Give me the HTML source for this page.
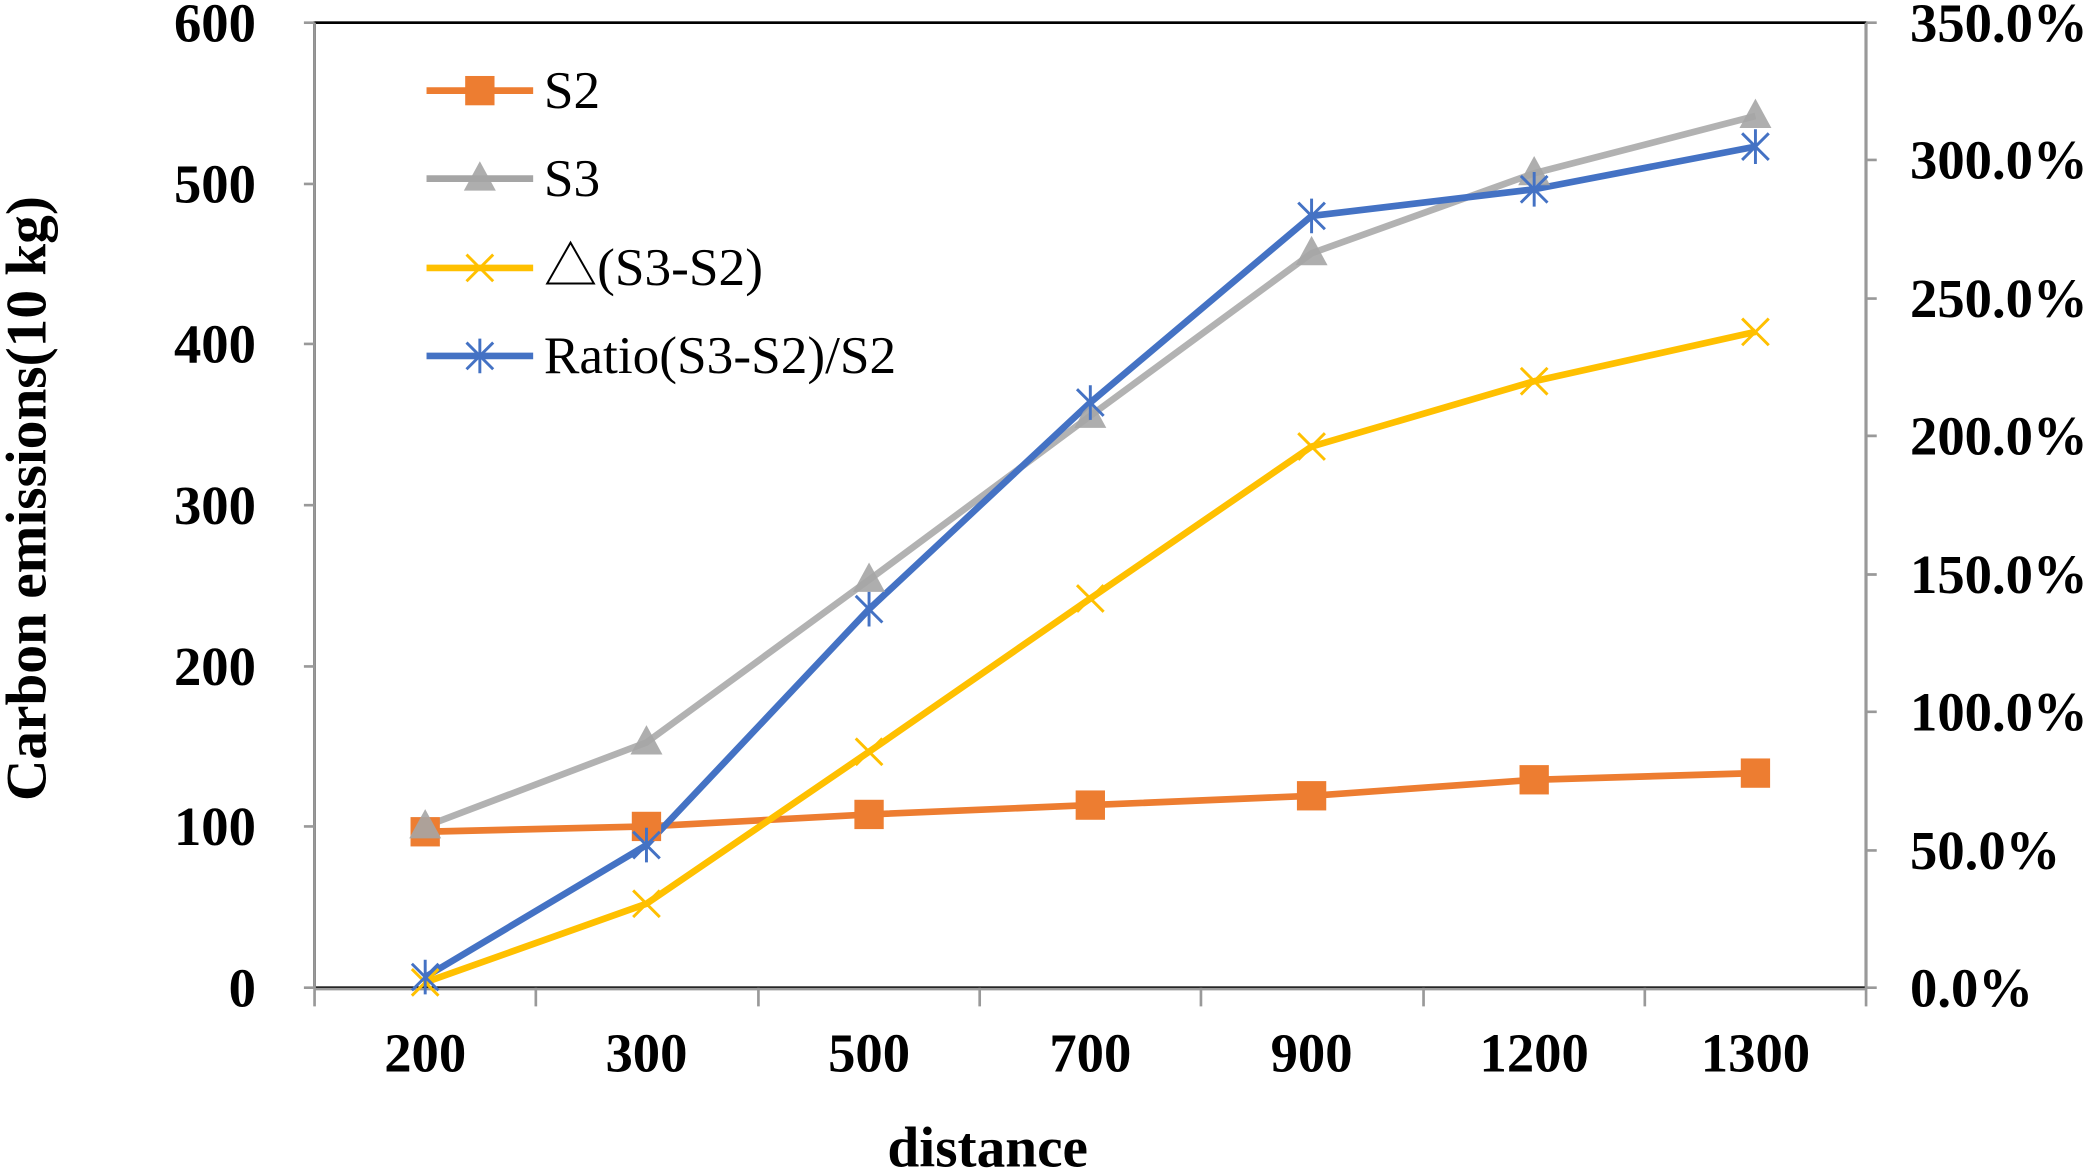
<!DOCTYPE html>
<html><head><style>html,body{margin:0;padding:0;background:#fff}svg{display:block}</style></head>
<body>
<svg width="2090" height="1173" viewBox="0 0 1568 880" preserveAspectRatio="none" xmlns="http://www.w3.org/2000/svg" font-family="Liberation Serif, serif">
<defs>
<g id="sq"><rect x="-11" y="-11" width="22" height="22" fill="#ED7D31"/></g>
<g id="tri"><polygon points="0,-13 12,9 -12,9" fill="#A5A5A5" opacity="0.9"/></g>
<g id="x"><path d="M-10,-10L10,10M-10,10L10,-10" stroke="#FFC000" stroke-width="2.2"/></g>
<g id="ast"><path d="M-10,-10L10,10M-10,10L10,-10M0,-13V13" stroke="#4472C4" stroke-width="2.2"/></g>
</defs>
<rect x="236" y="17" width="1164" height="724" fill="none" stroke="#000" stroke-width="2"/>
<g stroke="#999" stroke-width="2">
<line x1="236" y1="17" x2="236" y2="742"/>
<line x1="1400" y1="17" x2="1400" y2="742"/>
<line x1="236" y1="742" x2="1400" y2="742"/>
<path d="M228,17H236M228,138H236M228,258H236M228,379H236M228,500H236M228,620H236M228,741H236"/>
<path d="M1400,17H1408M1400,120H1408M1400,224H1408M1400,327H1408M1400,431H1408M1400,534H1408M1400,638H1408M1400,741H1408"/>
<path d="M236,741V755M402,741V755M569,741V755M735,741V755M901,741V755M1068,741V755M1234,741V755M1400,741V755"/>
</g>
<g font-size="41" font-weight="bold" text-anchor="end">
<text x="192" y="31">600</text><text x="192" y="152">500</text><text x="192" y="272">400</text><text x="192" y="393">300</text><text x="192" y="514">200</text><text x="192" y="634">100</text><text x="192" y="755">0</text>
</g>
<g font-size="41" font-weight="bold">
<text x="1433" y="31">350.0%</text><text x="1433" y="134">300.0%</text><text x="1433" y="238">250.0%</text><text x="1433" y="341">200.0%</text><text x="1433" y="445">150.0%</text><text x="1433" y="548">100.0%</text><text x="1433" y="652">50.0%</text><text x="1433" y="755">0.0%</text>
</g>
<g font-size="41" font-weight="bold" text-anchor="middle">
<text x="319" y="804">200</text><text x="485" y="804">300</text><text x="652" y="804">500</text><text x="818" y="804">700</text><text x="984" y="804">900</text><text x="1151" y="804">1200</text><text x="1317" y="804">1300</text>
<text x="741" y="875" font-size="43">distance</text>
<text transform="translate(34,374) rotate(-90)" font-size="43">Carbon emissions(10 kg)</text>
</g>
<g fill="none" stroke-width="5" stroke-linejoin="round">
<polyline stroke="#ED7D31" points="319,624 485,620 652,611 818,604 984,597 1151,585 1317,580"/>
<polyline stroke="#A5A5A5" stroke-opacity="0.85" points="319,620 485,557 652,435 818,312 984,190 1151,130 1317,87"/>
<polyline stroke="#FFC000" points="319,737 485,678 652,564 818,449 984,335 1151,286 1317,249"/>
<polyline stroke="#4472C4" points="319,733 485,634 652,457 818,302 984,162 1151,142 1317,110"/>
</g>
<use href="#sq" x="319" y="624"/><use href="#sq" x="485" y="620"/><use href="#sq" x="652" y="611"/><use href="#sq" x="818" y="604"/><use href="#sq" x="984" y="597"/><use href="#sq" x="1151" y="585"/><use href="#sq" x="1317" y="580"/>
<use href="#tri" x="319" y="620"/><use href="#tri" x="485" y="557"/><use href="#tri" x="652" y="435"/><use href="#tri" x="818" y="312"/><use href="#tri" x="984" y="190"/><use href="#tri" x="1151" y="130"/><use href="#tri" x="1317" y="87"/>
<use href="#x" x="319" y="737"/><use href="#x" x="485" y="678"/><use href="#x" x="652" y="564"/><use href="#x" x="818" y="449"/><use href="#x" x="984" y="335"/><use href="#x" x="1151" y="286"/><use href="#x" x="1317" y="249"/>
<use href="#ast" x="319" y="733"/><use href="#ast" x="485" y="634"/><use href="#ast" x="652" y="457"/><use href="#ast" x="818" y="302"/><use href="#ast" x="984" y="162"/><use href="#ast" x="1151" y="142"/><use href="#ast" x="1317" y="110"/>
<g stroke-width="5">
<line x1="320" y1="68" x2="400" y2="68" stroke="#ED7D31"/><use href="#sq" x="360" y="68"/>
<line x1="320" y1="134" x2="400" y2="134" stroke="#A5A5A5"/><use href="#tri" x="360" y="134"/>
<line x1="320" y1="201" x2="400" y2="201" stroke="#FFC000"/><use href="#x" x="360" y="201"/>
<line x1="320" y1="267" x2="400" y2="267" stroke="#4472C4"/><use href="#ast" x="360" y="267"/>
</g>
<g font-size="40">
<text x="408" y="81">S2</text><text x="408" y="147">S3</text><text x="408" y="214" font-family="Liberation Serif, 'Noto Sans CJK SC', serif">△(S3-S2)</text><text x="408" y="280">Ratio(S3-S2)/S2</text>
</g>
</svg>
</body></html>
